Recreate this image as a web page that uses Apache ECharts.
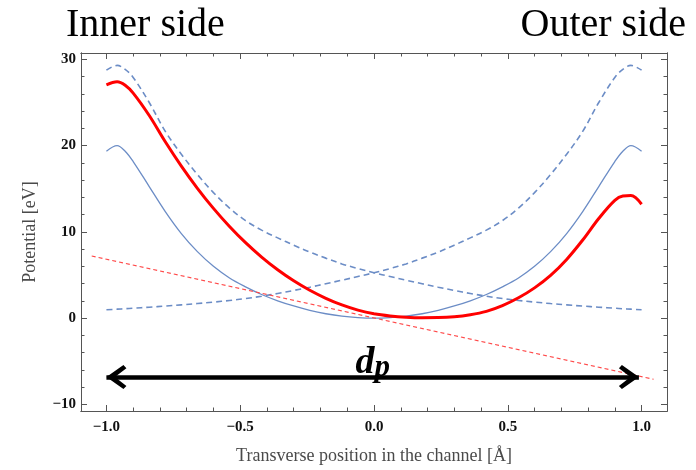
<!DOCTYPE html>
<html><head><meta charset="utf-8">
<script src="https://cdn.jsdelivr.net/npm/echarts@6/dist/echarts.min.js"></script>
<style>html,body{margin:0;padding:0;background:#fff}#c{width:696px;height:470px}</style>
</head><body><div id="c"></div>
<script>
// x positions (Å) where the curves were read
const xs = [-1.0, -0.96, -0.93, -0.9, -0.84, -0.78, -0.72, -0.66, -0.6, -0.54, -0.48, -0.42, -0.36, -0.3, -0.24, -0.18, -0.12, -0.06, 0,
            0.06, 0.12, 0.18, 0.24, 0.3, 0.36, 0.42, 0.48, 0.54, 0.6, 0.66, 0.72, 0.78, 0.84, 0.9, 0.93, 0.96, 1.0];
// solid blue potential (eV)
const solidBlue = [19.35, 20.0, 19.35, 18.15, 15.25, 12.35, 9.8, 7.7, 6.0, 4.65, 3.62, 2.73, 2.0, 1.4, 0.89, 0.5, 0.22, 0.06, 0,
                   0.06, 0.22, 0.5, 0.89, 1.4, 2.0, 2.73, 3.62, 4.65, 6.0, 7.7, 9.8, 12.35, 15.25, 18.15, 19.35, 20.0, 19.35];
// dashed blue, falling from the inner side
const dashedFalling = [28.75, 29.3, 28.85, 27.9, 25.0, 21.65, 19.0, 16.65, 14.55, 12.75, 11.3, 10.2, 9.3, 8.45, 7.65, 6.95, 6.28, 5.74, 5.25,
                       4.82, 4.39, 3.98, 3.58, 3.2, 2.85, 2.53, 2.26, 2.04, 1.85, 1.68, 1.53, 1.39, 1.26, 1.14, 1.08, 1.03, 0.96];
// dashed blue, rising towards the outer side
const dashedRising = [0.96, 1.03, 1.08, 1.14, 1.26, 1.39, 1.53, 1.68, 1.85, 2.04, 2.26, 2.53, 2.85, 3.2, 3.58, 3.98, 4.39, 4.82, 5.25,
                      5.74, 6.28, 6.95, 7.65, 8.45, 9.3, 10.2, 11.3, 12.75, 14.55, 16.65, 19.0, 21.65, 25.0, 27.9, 28.85, 29.3, 28.75];
// red solid total potential
const redTotal = [27.05, 27.4, 27.0, 26.09, 23.49, 20.44, 17.62, 15.05, 12.72, 10.62, 8.74, 7.07, 5.6, 4.32, 3.22, 2.29, 1.52, 0.92, 0.5,
                  0.25, 0.1, 0.04, 0.05, 0.14, 0.38, 0.78, 1.45, 2.35, 3.5, 4.95, 6.8, 9.05, 11.55, 13.65, 14.15, 14.2, 13.2];
// red dashed straight line
const fieldLineX = [-1.055, 1.045];
const fieldLineY = [7.2, -7.1];
// d_p double arrow
const arrowX = [-1.0, 0.99];
const arrowY = -6.85;
// ticks
const xMajor = [-1, -0.5, 0, 0.5, 1];
const xMinor = [-0.9, -0.8, -0.7, -0.6, -0.4, -0.3, -0.2, -0.1, 0.1, 0.2, 0.3, 0.4, 0.6, 0.7, 0.8, 0.9];
const yMajor = [-10, 0, 10, 20, 30];
const yMinor = [-8, -6, -4, -2, 2, 4, 6, 8, 12, 14, 16, 18, 22, 24, 26, 28];

const pair = (arr) => xs.map((x, i) => [x, arr[i]]);
const minus = (s) => s.replace('-', '\u2212');
const SERIF = 'Liberation Serif';
const FRAME = '#555';
const XMIN = -1.095, XMAX = 1.095, YMIN = -10.78, YMAX = 30.74;

function xAx(pos, vals, len, labels, extra) {
  return Object.assign({
    type: 'value', position: pos, min: XMIN, max: XMAX,
    axisLine: {show: true, onZero: false, lineStyle: {color: FRAME, width: 1}},
    axisTick: {show: true, inside: true, length: len, customValues: vals, lineStyle: {color: FRAME, width: 1}},
    axisLabel: {show: labels, customValues: vals, margin: 9, color: '#111', fontFamily: SERIF, fontWeight: 'bold', fontSize: 15,
                formatter: (v) => minus(Number(v).toFixed(1))},
    splitLine: {show: false}
  }, extra || {});
}
function yAx(pos, vals, len, labels, extra) {
  return Object.assign({
    type: 'value', position: pos, min: YMIN, max: YMAX,
    axisLine: {show: true, onZero: false, lineStyle: {color: FRAME, width: 1}},
    axisTick: {show: true, inside: true, length: len, customValues: vals, lineStyle: {color: FRAME, width: 1}},
    axisLabel: {show: labels, customValues: vals, margin: 5, color: '#111', fontFamily: SERIF, fontWeight: 'bold', fontSize: 15,
                formatter: (v) => minus(String(Math.round(v)))},
    splitLine: {show: false}
  }, extra || {});
}

const chevron = 'path://M13,0 L26,17 L22.5,20 L13,8.5 L3.5,20 L0,17 Z';
const BLUE = '#6c8dc6';

const option = {
  animation: false,
  backgroundColor: '#fff',
  title: [
    {text: 'Inner side', left: 66, top: 5, padding: 0, textStyle: {fontFamily: SERIF, fontSize: 40, fontWeight: 'normal', color: '#000'}},
    {text: 'Outer side', right: 10, top: 5, padding: 0, textStyle: {fontFamily: SERIF, fontSize: 40, fontWeight: 'normal', color: '#000'}}
  ],
  grid: {left: 81, right: 29, top: 53, bottom: 54},
  xAxis: [
    xAx('bottom', xMajor, 6, true, {name: 'Transverse position in the channel [\u00c5]', nameLocation: 'middle', nameGap: 36,
        nameTextStyle: {fontFamily: SERIF, fontSize: 18, color: '#4a4a4a'}}),
    xAx('bottom', xMinor, 3.5, false),
    xAx('top', xMajor, 6, false),
    xAx('top', xMinor, 3.5, false)
  ],
  yAxis: [
    yAx('left', yMajor, 6, true, {name: 'Potential [eV]', nameLocation: 'middle', nameGap: 42,
        nameTextStyle: {fontFamily: SERIF, fontSize: 18, color: '#4a4a4a'}}),
    yAx('left', yMinor, 3.5, false),
    yAx('right', yMajor, 6, false),
    yAx('right', yMinor, 3.5, false)
  ],
  series: [
    {type: 'line', name: 'solid', data: pair(solidBlue), smooth: 0.35, symbol: 'none',
     lineStyle: {color: BLUE, width: 1.3}},
    {type: 'line', name: 'falling', data: pair(dashedFalling), smooth: 0.35, symbol: 'none',
     lineStyle: {color: BLUE, width: 1.6, type: [6, 4]}},
    {type: 'line', name: 'rising', data: pair(dashedRising), smooth: 0.35, symbol: 'none',
     lineStyle: {color: BLUE, width: 1.6, type: [6, 4]}},
    {type: 'line', name: 'field', data: fieldLineX.map((x, i) => [x, fieldLineY[i]]), symbol: 'none',
     lineStyle: {color: '#ff4a4a', width: 1.2, type: [4, 3]}},
    {type: 'line', name: 'total', data: pair(redTotal), smooth: 0.35, symbol: 'none',
     lineStyle: {color: '#ff0000', width: 3}},
    {type: 'line', name: 'arrow', data: [], symbol: 'none',
     markLine: {
       silent: true, animation: false,
       symbol: [chevron, chevron], symbolSize: [24, 20], symbolOffset: [[0, 10], [0, 10]],
       lineStyle: {color: '#000', width: 4.5, type: 'solid'},
       emphasis: {disabled: true},
       label: {show: true, position: 'middle', distance: -6,
         formatter: '{d|d}{p|p}',
         rich: {
           d: {fontFamily: SERIF, fontStyle: 'italic', fontWeight: 'bold', fontSize: 38, color: '#000', verticalAlign: 'bottom', padding: [0, 0, 1, 0]},
           p: {fontFamily: SERIF, fontStyle: 'italic', fontWeight: 'bold', fontSize: 31, color: '#000', verticalAlign: 'bottom'}
         }},
       data: [[{coord: [arrowX[0], arrowY]}, {coord: [arrowX[1], arrowY]}]]
     }}
  ]
};
echarts.init(document.getElementById('c')).setOption(option);
</script></body></html>
